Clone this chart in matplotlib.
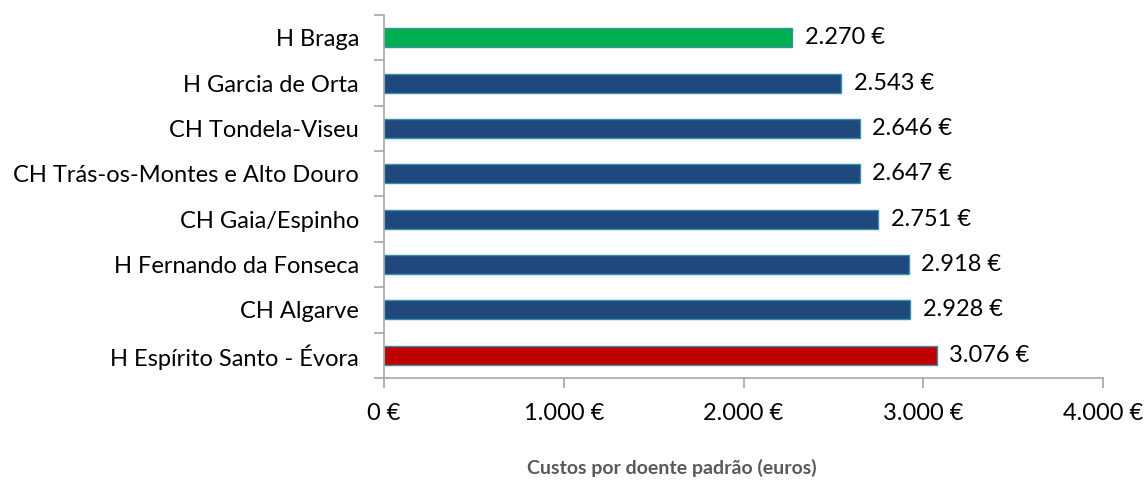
import matplotlib
matplotlib.use("Agg")
import matplotlib.pyplot as plt

hospitals = ["H Braga", "H Garcia de Orta", "CH Tondela-Viseu",
             "CH Trás-os-Montes e Alto Douro", "CH Gaia/Espinho",
             "H Fernando da Fonseca", "CH Algarve", "H Espírito Santo - Évora"]
costs = [2270, 2543, 2646, 2647, 2751, 2918, 2928, 3076]
colors = ["#00B050", "#1F497D", "#1F497D", "#1F497D", "#1F497D",
          "#1F497D", "#1F497D", "#C00000"]
xticks = [0, 1000, 2000, 3000, 4000]
xlabel = "Custos por doente padrão (euros)"

def fmt(v):
    return f"{v:,.0f}".replace(",", ".") + " €"

plt.rcParams['font.family'] = ['Lato', 'DejaVu Sans']
FS = 17

fig = plt.figure(figsize=(11.45, 4.8), dpi=100)
ax = fig.add_axes([0.3354, 0.2125, 0.6279, 0.7563])

ypos = list(range(len(hospitals)))
ax.barh(ypos, costs, height=0.42, color=colors, edgecolor="#3A8FAA", linewidth=1.0)
for y, v in zip(ypos, costs):
    ax.text(v + 70, y, fmt(v), va="center", ha="left", fontsize=FS, color="#000000")

ax.set_ylim(len(hospitals) - 0.5, -0.5)
ax.set_xlim(0, 4000)
ax.set_yticks([i - 0.5 for i in range(len(hospitals) + 1)])
ax.set_yticklabels([])
ax.set_yticks(ypos, minor=True)
ax.set_yticklabels(hospitals, minor=True, fontsize=FS)
ax.tick_params(axis="y", which="minor", length=0, pad=18)
ax.tick_params(axis="y", which="major", length=7, width=1.2, color="#A6A6A6")
ax.set_xticks(xticks)
ax.set_xticklabels([fmt(t) for t in xticks], fontsize=FS)
ax.tick_params(axis="x", length=7, width=1.2, color="#A6A6A6", pad=11)

for s in ["top", "right"]:
    ax.spines[s].set_visible(False)
for s in ["left", "bottom"]:
    ax.spines[s].set_color("#A6A6A6")
    ax.spines[s].set_linewidth(1.2)

fig.text(0.587, 0.025, xlabel, ha="center", va="center", fontsize=14,
         fontweight="bold", color="#595959")

fig.savefig("out.png", dpi=100)
